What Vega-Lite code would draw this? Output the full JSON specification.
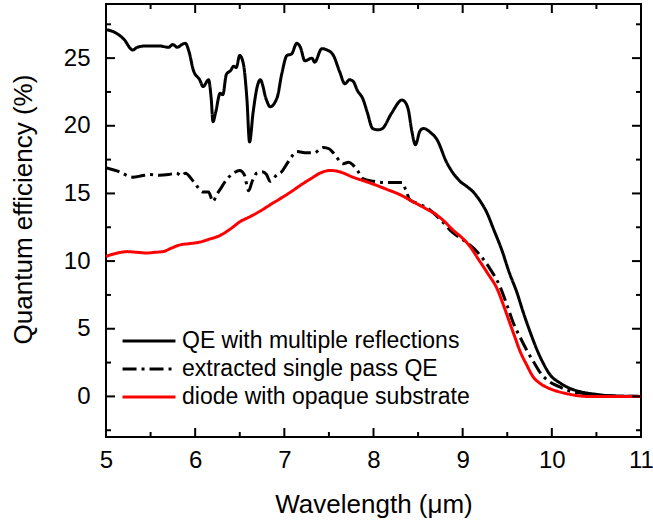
{
  "$schema": "https://vega.github.io/schema/vega-lite/v6.json",
  "autosize": "none",
  "width": 535,
  "height": 433,
  "padding": {"left": 106, "top": 4, "right": 12, "bottom": 86},
  "background": "white",
  "config": {
    "view": {"stroke": "black", "strokeWidth": 2},
    "font": "Liberation Sans",
    "axis": {
      "domain": false, "tickOpacity": 0,
      "labelFont": "Liberation Sans", "labelFontSize": 24, "labelColor": "black",
      "titleFont": "Liberation Sans", "titleFontSize": 26, "titleFontWeight": "normal", "titleColor": "black",
      "grid": false, "labelFlush": false, "labelOverlap": false
    },
    "legend": {
      "labelFont": "Liberation Sans", "labelFontSize": 23, "labelColor": "black"
    },
    "tick": {"color": "black", "thickness": 2, "opacity": 1}
  },
  "resolve": {"axis": {"x": "independent", "y": "independent"}},
  "datasets": {
    "xmajor": [{"v": 5}, {"v": 6}, {"v": 7}, {"v": 8}, {"v": 9}, {"v": 10}, {"v": 11}],
    "xminor": [{"v": 5.5}, {"v": 6.5}, {"v": 7.5}, {"v": 8.5}, {"v": 9.5}, {"v": 10.5}],
    "ymajor": [{"v": 0}, {"v": 5}, {"v": 10}, {"v": 15}, {"v": 20}, {"v": 25}],
    "yminor": [{"v": -2.5}, {"v": 2.5}, {"v": 7.5}, {"v": 12.5}, {"v": 17.5}, {"v": 22.5}, {"v": 27.5}],
    "qe": [
      {"series": "QE with multiple reflections", "x": 5.0, "y": 27.1},
      {"series": "QE with multiple reflections", "x": 5.1, "y": 26.9},
      {"series": "QE with multiple reflections", "x": 5.2, "y": 26.4},
      {"series": "QE with multiple reflections", "x": 5.3, "y": 25.6},
      {"series": "QE with multiple reflections", "x": 5.35, "y": 25.8},
      {"series": "QE with multiple reflections", "x": 5.45, "y": 25.9},
      {"series": "QE with multiple reflections", "x": 5.6, "y": 25.9},
      {"series": "QE with multiple reflections", "x": 5.7, "y": 25.8},
      {"series": "QE with multiple reflections", "x": 5.75, "y": 26.0},
      {"series": "QE with multiple reflections", "x": 5.8, "y": 25.8},
      {"series": "QE with multiple reflections", "x": 5.85, "y": 26.0},
      {"series": "QE with multiple reflections", "x": 5.89, "y": 26.1},
      {"series": "QE with multiple reflections", "x": 5.93, "y": 25.5},
      {"series": "QE with multiple reflections", "x": 5.98, "y": 24.1},
      {"series": "QE with multiple reflections", "x": 6.05, "y": 23.4},
      {"series": "QE with multiple reflections", "x": 6.09, "y": 22.9},
      {"series": "QE with multiple reflections", "x": 6.15, "y": 23.4},
      {"series": "QE with multiple reflections", "x": 6.18, "y": 22.0},
      {"series": "QE with multiple reflections", "x": 6.2, "y": 20.3},
      {"series": "QE with multiple reflections", "x": 6.23, "y": 21.0},
      {"series": "QE with multiple reflections", "x": 6.28, "y": 22.4},
      {"series": "QE with multiple reflections", "x": 6.31, "y": 22.3},
      {"series": "QE with multiple reflections", "x": 6.35, "y": 23.8},
      {"series": "QE with multiple reflections", "x": 6.4, "y": 24.1},
      {"series": "QE with multiple reflections", "x": 6.43, "y": 24.4},
      {"series": "QE with multiple reflections", "x": 6.46, "y": 24.3},
      {"series": "QE with multiple reflections", "x": 6.5, "y": 25.2},
      {"series": "QE with multiple reflections", "x": 6.54, "y": 24.6},
      {"series": "QE with multiple reflections", "x": 6.58, "y": 22.0},
      {"series": "QE with multiple reflections", "x": 6.61, "y": 18.8},
      {"series": "QE with multiple reflections", "x": 6.65, "y": 21.0},
      {"series": "QE with multiple reflections", "x": 6.7, "y": 23.0},
      {"series": "QE with multiple reflections", "x": 6.73, "y": 23.4},
      {"series": "QE with multiple reflections", "x": 6.8, "y": 21.9},
      {"series": "QE with multiple reflections", "x": 6.84, "y": 21.4},
      {"series": "QE with multiple reflections", "x": 6.92, "y": 22.1},
      {"series": "QE with multiple reflections", "x": 6.97, "y": 23.8},
      {"series": "QE with multiple reflections", "x": 7.03, "y": 25.2},
      {"series": "QE with multiple reflections", "x": 7.08, "y": 25.3},
      {"series": "QE with multiple reflections", "x": 7.14, "y": 26.1},
      {"series": "QE with multiple reflections", "x": 7.18, "y": 25.8},
      {"series": "QE with multiple reflections", "x": 7.23, "y": 24.8},
      {"series": "QE with multiple reflections", "x": 7.31, "y": 25.0},
      {"series": "QE with multiple reflections", "x": 7.34, "y": 24.7},
      {"series": "QE with multiple reflections", "x": 7.42, "y": 25.7},
      {"series": "QE with multiple reflections", "x": 7.48, "y": 25.6},
      {"series": "QE with multiple reflections", "x": 7.55, "y": 25.2},
      {"series": "QE with multiple reflections", "x": 7.62, "y": 24.0},
      {"series": "QE with multiple reflections", "x": 7.68, "y": 23.1},
      {"series": "QE with multiple reflections", "x": 7.73, "y": 23.4},
      {"series": "QE with multiple reflections", "x": 7.77, "y": 23.3},
      {"series": "QE with multiple reflections", "x": 7.82, "y": 22.6},
      {"series": "QE with multiple reflections", "x": 7.88, "y": 22.0},
      {"series": "QE with multiple reflections", "x": 7.93, "y": 21.0},
      {"series": "QE with multiple reflections", "x": 7.99, "y": 19.8},
      {"series": "QE with multiple reflections", "x": 8.05, "y": 19.7},
      {"series": "QE with multiple reflections", "x": 8.1, "y": 19.8},
      {"series": "QE with multiple reflections", "x": 8.2, "y": 20.9},
      {"series": "QE with multiple reflections", "x": 8.32, "y": 21.9},
      {"series": "QE with multiple reflections", "x": 8.36, "y": 21.7},
      {"series": "QE with multiple reflections", "x": 8.39, "y": 21.2},
      {"series": "QE with multiple reflections", "x": 8.43, "y": 19.6},
      {"series": "QE with multiple reflections", "x": 8.47, "y": 18.6},
      {"series": "QE with multiple reflections", "x": 8.52, "y": 19.6},
      {"series": "QE with multiple reflections", "x": 8.56, "y": 19.8},
      {"series": "QE with multiple reflections", "x": 8.64, "y": 19.5},
      {"series": "QE with multiple reflections", "x": 8.71, "y": 19.0},
      {"series": "QE with multiple reflections", "x": 8.82, "y": 17.3},
      {"series": "QE with multiple reflections", "x": 8.97, "y": 15.9},
      {"series": "QE with multiple reflections", "x": 9.05, "y": 15.5},
      {"series": "QE with multiple reflections", "x": 9.12, "y": 15.1},
      {"series": "QE with multiple reflections", "x": 9.2, "y": 14.4},
      {"series": "QE with multiple reflections", "x": 9.27, "y": 13.6},
      {"series": "QE with multiple reflections", "x": 9.35, "y": 12.3},
      {"series": "QE with multiple reflections", "x": 9.44, "y": 10.8},
      {"series": "QE with multiple reflections", "x": 9.52, "y": 9.2},
      {"series": "QE with multiple reflections", "x": 9.61, "y": 7.65},
      {"series": "QE with multiple reflections", "x": 9.68, "y": 6.2},
      {"series": "QE with multiple reflections", "x": 9.76, "y": 4.7},
      {"series": "QE with multiple reflections", "x": 9.83, "y": 3.5},
      {"series": "QE with multiple reflections", "x": 9.9, "y": 2.5},
      {"series": "QE with multiple reflections", "x": 9.98, "y": 1.6},
      {"series": "QE with multiple reflections", "x": 10.09, "y": 1.0},
      {"series": "QE with multiple reflections", "x": 10.2, "y": 0.6},
      {"series": "QE with multiple reflections", "x": 10.32, "y": 0.35},
      {"series": "QE with multiple reflections", "x": 10.5, "y": 0.15},
      {"series": "QE with multiple reflections", "x": 10.65, "y": 0.05},
      {"series": "QE with multiple reflections", "x": 11.0, "y": 0.0},

      {"series": "extracted single pass QE", "x": 5.0, "y": 16.9},
      {"series": "extracted single pass QE", "x": 5.15, "y": 16.6},
      {"series": "extracted single pass QE", "x": 5.3, "y": 16.2},
      {"series": "extracted single pass QE", "x": 5.4, "y": 16.3},
      {"series": "extracted single pass QE", "x": 5.49, "y": 16.4},
      {"series": "extracted single pass QE", "x": 5.6, "y": 16.35},
      {"series": "extracted single pass QE", "x": 5.7, "y": 16.4},
      {"series": "extracted single pass QE", "x": 5.79, "y": 16.5},
      {"series": "extracted single pass QE", "x": 5.85, "y": 16.3},
      {"series": "extracted single pass QE", "x": 5.89, "y": 16.5},
      {"series": "extracted single pass QE", "x": 5.98, "y": 15.9},
      {"series": "extracted single pass QE", "x": 6.09, "y": 15.1},
      {"series": "extracted single pass QE", "x": 6.15, "y": 15.1},
      {"series": "extracted single pass QE", "x": 6.2, "y": 14.4},
      {"series": "extracted single pass QE", "x": 6.24, "y": 14.9},
      {"series": "extracted single pass QE", "x": 6.28, "y": 15.3},
      {"series": "extracted single pass QE", "x": 6.35, "y": 16.0},
      {"series": "extracted single pass QE", "x": 6.43, "y": 16.5},
      {"series": "extracted single pass QE", "x": 6.5, "y": 16.7},
      {"series": "extracted single pass QE", "x": 6.55, "y": 16.4},
      {"series": "extracted single pass QE", "x": 6.6, "y": 15.2},
      {"series": "extracted single pass QE", "x": 6.64, "y": 15.9},
      {"series": "extracted single pass QE", "x": 6.69, "y": 16.5},
      {"series": "extracted single pass QE", "x": 6.75, "y": 16.6},
      {"series": "extracted single pass QE", "x": 6.8, "y": 16.4},
      {"series": "extracted single pass QE", "x": 6.84, "y": 15.9},
      {"series": "extracted single pass QE", "x": 6.92, "y": 16.4},
      {"series": "extracted single pass QE", "x": 6.97, "y": 16.6},
      {"series": "extracted single pass QE", "x": 7.03, "y": 17.2},
      {"series": "extracted single pass QE", "x": 7.08, "y": 17.7},
      {"series": "extracted single pass QE", "x": 7.14, "y": 18.1},
      {"series": "extracted single pass QE", "x": 7.25, "y": 18.0},
      {"series": "extracted single pass QE", "x": 7.34, "y": 18.0},
      {"series": "extracted single pass QE", "x": 7.4, "y": 18.3},
      {"series": "extracted single pass QE", "x": 7.44, "y": 18.4},
      {"series": "extracted single pass QE", "x": 7.5, "y": 18.3},
      {"series": "extracted single pass QE", "x": 7.55, "y": 18.0},
      {"series": "extracted single pass QE", "x": 7.66, "y": 17.2},
      {"series": "extracted single pass QE", "x": 7.72, "y": 17.3},
      {"series": "extracted single pass QE", "x": 7.77, "y": 17.1},
      {"series": "extracted single pass QE", "x": 7.83, "y": 16.6},
      {"series": "extracted single pass QE", "x": 7.88, "y": 16.1},
      {"series": "extracted single pass QE", "x": 8.0, "y": 15.9},
      {"series": "extracted single pass QE", "x": 8.15, "y": 15.8},
      {"series": "extracted single pass QE", "x": 8.32, "y": 15.8},
      {"series": "extracted single pass QE", "x": 8.36, "y": 15.3},
      {"series": "extracted single pass QE", "x": 8.41, "y": 14.5},
      {"series": "extracted single pass QE", "x": 8.52, "y": 14.2},
      {"series": "extracted single pass QE", "x": 8.63, "y": 13.8},
      {"series": "extracted single pass QE", "x": 8.76, "y": 13.0},
      {"series": "extracted single pass QE", "x": 8.89, "y": 12.1},
      {"series": "extracted single pass QE", "x": 9.02, "y": 11.5},
      {"series": "extracted single pass QE", "x": 9.16, "y": 10.7},
      {"series": "extracted single pass QE", "x": 9.3, "y": 9.5},
      {"series": "extracted single pass QE", "x": 9.42, "y": 8.1},
      {"series": "extracted single pass QE", "x": 9.5, "y": 6.7},
      {"series": "extracted single pass QE", "x": 9.57, "y": 5.4},
      {"series": "extracted single pass QE", "x": 9.65, "y": 4.3},
      {"series": "extracted single pass QE", "x": 9.72, "y": 3.4},
      {"series": "extracted single pass QE", "x": 9.8, "y": 2.5},
      {"series": "extracted single pass QE", "x": 9.87, "y": 1.75},
      {"series": "extracted single pass QE", "x": 9.97, "y": 1.1},
      {"series": "extracted single pass QE", "x": 10.09, "y": 0.7},
      {"series": "extracted single pass QE", "x": 10.2, "y": 0.4},
      {"series": "extracted single pass QE", "x": 10.32, "y": 0.25},
      {"series": "extracted single pass QE", "x": 10.6, "y": 0.05},
      {"series": "extracted single pass QE", "x": 11.0, "y": 0.0},

      {"series": "diode with opaque substrate", "x": 5.0, "y": 10.35},
      {"series": "diode with opaque substrate", "x": 5.1, "y": 10.55},
      {"series": "diode with opaque substrate", "x": 5.24, "y": 10.7},
      {"series": "diode with opaque substrate", "x": 5.35, "y": 10.65},
      {"series": "diode with opaque substrate", "x": 5.46, "y": 10.6},
      {"series": "diode with opaque substrate", "x": 5.55, "y": 10.65},
      {"series": "diode with opaque substrate", "x": 5.64, "y": 10.7},
      {"series": "diode with opaque substrate", "x": 5.73, "y": 10.95},
      {"series": "diode with opaque substrate", "x": 5.83, "y": 11.2},
      {"series": "diode with opaque substrate", "x": 5.95, "y": 11.3},
      {"series": "diode with opaque substrate", "x": 6.05, "y": 11.4},
      {"series": "diode with opaque substrate", "x": 6.15, "y": 11.6},
      {"series": "diode with opaque substrate", "x": 6.28, "y": 11.9},
      {"series": "diode with opaque substrate", "x": 6.4, "y": 12.4},
      {"series": "diode with opaque substrate", "x": 6.5, "y": 12.9},
      {"series": "diode with opaque substrate", "x": 6.62, "y": 13.3},
      {"series": "diode with opaque substrate", "x": 6.73, "y": 13.7},
      {"series": "diode with opaque substrate", "x": 6.85, "y": 14.2},
      {"series": "diode with opaque substrate", "x": 6.95, "y": 14.6},
      {"series": "diode with opaque substrate", "x": 7.07, "y": 15.1},
      {"series": "diode with opaque substrate", "x": 7.18, "y": 15.6},
      {"series": "diode with opaque substrate", "x": 7.3, "y": 16.1},
      {"series": "diode with opaque substrate", "x": 7.4, "y": 16.5},
      {"series": "diode with opaque substrate", "x": 7.51, "y": 16.7},
      {"series": "diode with opaque substrate", "x": 7.62, "y": 16.6},
      {"series": "diode with opaque substrate", "x": 7.77, "y": 16.2},
      {"series": "diode with opaque substrate", "x": 7.95, "y": 15.8},
      {"series": "diode with opaque substrate", "x": 8.15, "y": 15.3},
      {"series": "diode with opaque substrate", "x": 8.3, "y": 14.9},
      {"series": "diode with opaque substrate", "x": 8.44, "y": 14.4},
      {"series": "diode with opaque substrate", "x": 8.58, "y": 13.9},
      {"series": "diode with opaque substrate", "x": 8.71, "y": 13.4},
      {"series": "diode with opaque substrate", "x": 8.8, "y": 12.9},
      {"series": "diode with opaque substrate", "x": 8.89, "y": 12.3},
      {"series": "diode with opaque substrate", "x": 8.98, "y": 11.8},
      {"series": "diode with opaque substrate", "x": 9.08, "y": 11.1},
      {"series": "diode with opaque substrate", "x": 9.17, "y": 10.2},
      {"series": "diode with opaque substrate", "x": 9.28, "y": 9.1},
      {"series": "diode with opaque substrate", "x": 9.39, "y": 7.9},
      {"series": "diode with opaque substrate", "x": 9.46, "y": 6.7},
      {"series": "diode with opaque substrate", "x": 9.53, "y": 5.4},
      {"series": "diode with opaque substrate", "x": 9.59, "y": 4.3},
      {"series": "diode with opaque substrate", "x": 9.64, "y": 3.4},
      {"series": "diode with opaque substrate", "x": 9.72, "y": 2.3},
      {"series": "diode with opaque substrate", "x": 9.79, "y": 1.45},
      {"series": "diode with opaque substrate", "x": 9.87, "y": 0.95},
      {"series": "diode with opaque substrate", "x": 9.95, "y": 0.65},
      {"series": "diode with opaque substrate", "x": 10.05, "y": 0.4},
      {"series": "diode with opaque substrate", "x": 10.17, "y": 0.2},
      {"series": "diode with opaque substrate", "x": 10.39, "y": 0.0},
      {"series": "diode with opaque substrate", "x": 11.0, "y": 0.0}
    ]
  },
  "layer": [
    {
      "data": {"name": "qe"},
      "mark": {"type": "line", "strokeWidth": 3, "interpolate": "monotone", "clip": true},
      "encoding": {
        "x": {
          "field": "x", "type": "quantitative",
          "scale": {"domain": [5, 11], "nice": false, "zero": false},
          "axis": {
            "orient": "bottom", "title": "Wavelength (μm)",
            "values": [5, 6, 7, 8, 9, 10, 11], "format": "d",
            "tickSize": -9, "labelPadding": 20, "titlePadding": 19
          }
        },
        "y": {
          "field": "y", "type": "quantitative",
          "scale": {"domain": [-3, 29], "nice": false, "zero": false},
          "axis": {
            "orient": "left", "title": "Quantum efficiency (%)",
            "values": [0, 5, 10, 15, 20, 25], "format": "d",
            "tickSize": -9, "labelPadding": 25, "titlePadding": 27, "titleY": 205
          }
        },
        "color": {
          "field": "series", "type": "nominal", "title": null,
          "scale": {
            "domain": ["QE with multiple reflections", "extracted single pass QE", "diode with opaque substrate"],
            "range": ["#000000", "#000000", "#ff0000"]
          },
          "legend": {
            "orient": "none", "legendX": 15, "legendY": 323, "padding": 0,
            "symbolType": "stroke", "symbolSize": 2800, "symbolStrokeWidth": 3,
            "clipHeight": 28, "rowPadding": -3, "labelOffset": 5, "labelLimit": 0
          }
        },
        "strokeDash": {
          "field": "series", "type": "nominal", "title": null,
          "scale": {
            "domain": ["QE with multiple reflections", "extracted single pass QE", "diode with opaque substrate"],
            "range": [[1, 0], [14, 5, 3, 5], [1, 0]]
          },
          "legend": {
            "orient": "none", "legendX": 15, "legendY": 323, "padding": 0,
            "symbolType": "stroke", "symbolSize": 2800, "symbolStrokeWidth": 3,
            "clipHeight": 28, "rowPadding": -3, "labelOffset": 5, "labelLimit": 0
          }
        }
      }
    },
    {
      "data": {"name": "xmajor"},
      "mark": {"type": "tick", "orient": "vertical", "size": 18, "clip": true},
      "encoding": {
        "x": {"field": "v", "type": "quantitative", "axis": null, "scale": {"domain": [5, 11], "nice": false, "zero": false}},
        "y": {"datum": -3, "type": "quantitative", "axis": null}
      }
    },
    {
      "data": {"name": "xmajor"},
      "mark": {"type": "tick", "orient": "vertical", "size": 18, "clip": true},
      "encoding": {
        "x": {"field": "v", "type": "quantitative", "axis": null},
        "y": {"datum": 29, "type": "quantitative", "axis": null}
      }
    },
    {
      "data": {"name": "xminor"},
      "mark": {"type": "tick", "orient": "vertical", "size": 10, "clip": true},
      "encoding": {
        "x": {"field": "v", "type": "quantitative", "axis": null},
        "y": {"datum": -3, "type": "quantitative", "axis": null}
      }
    },
    {
      "data": {"name": "xminor"},
      "mark": {"type": "tick", "orient": "vertical", "size": 10, "clip": true},
      "encoding": {
        "x": {"field": "v", "type": "quantitative", "axis": null},
        "y": {"datum": 29, "type": "quantitative", "axis": null}
      }
    },
    {
      "data": {"name": "ymajor"},
      "mark": {"type": "tick", "orient": "horizontal", "size": 18, "clip": true},
      "encoding": {
        "y": {"field": "v", "type": "quantitative", "axis": null, "scale": {"domain": [-3, 29], "nice": false, "zero": false}},
        "x": {"datum": 5, "type": "quantitative", "axis": null}
      }
    },
    {
      "data": {"name": "ymajor"},
      "mark": {"type": "tick", "orient": "horizontal", "size": 18, "clip": true},
      "encoding": {
        "y": {"field": "v", "type": "quantitative", "axis": null},
        "x": {"datum": 11, "type": "quantitative", "axis": null}
      }
    },
    {
      "data": {"name": "yminor"},
      "mark": {"type": "tick", "orient": "horizontal", "size": 10, "clip": true},
      "encoding": {
        "y": {"field": "v", "type": "quantitative", "axis": null},
        "x": {"datum": 5, "type": "quantitative", "axis": null}
      }
    },
    {
      "data": {"name": "yminor"},
      "mark": {"type": "tick", "orient": "horizontal", "size": 10, "clip": true},
      "encoding": {
        "y": {"field": "v", "type": "quantitative", "axis": null},
        "x": {"datum": 11, "type": "quantitative", "axis": null}
      }
    }
  ]
}
